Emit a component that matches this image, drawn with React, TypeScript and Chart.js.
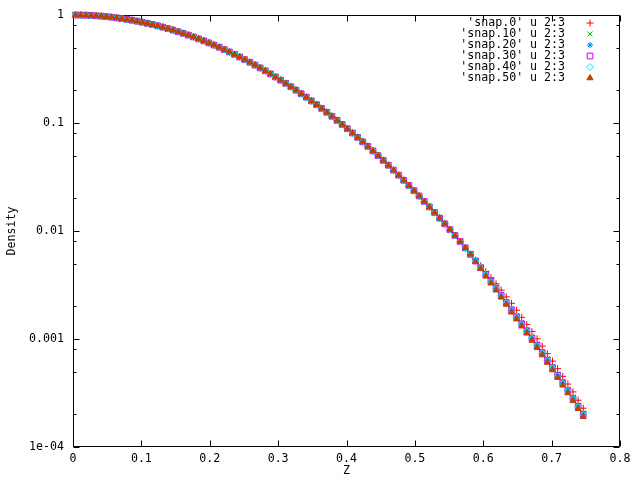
import React, { useEffect, useRef } from 'react';
import { Chart, registerables } from 'chart.js';
import { drawPoint } from 'chart.js/helpers';

Chart.register(...registerables);

const FONT = '"DejaVu Sans Mono", "Liberation Mono", monospace';
const FONT_SIZE = 11.6;

// z positions of the samples (same for every snapshot)
const zValues = [
  0.00375, 0.01125, 0.01875, 0.02625, 0.03375, 0.04125, 0.04875, 0.05625, 0.06375, 0.07125,
  0.07875, 0.08625, 0.09375, 0.10125, 0.10875, 0.11625, 0.12375, 0.13125, 0.13875, 0.14625,
  0.15375, 0.16125, 0.16875, 0.17625, 0.18375, 0.19125, 0.19875, 0.20625, 0.21375, 0.22125,
  0.22875, 0.23625, 0.24375, 0.25125, 0.25875, 0.26625, 0.27375, 0.28125, 0.28875, 0.29625,
  0.30375, 0.31125, 0.31875, 0.32625, 0.33375, 0.34125, 0.34875, 0.35625, 0.36375, 0.37125,
  0.37875, 0.38625, 0.39375, 0.40125, 0.40875, 0.41625, 0.42375, 0.43125, 0.43875, 0.44625,
  0.45375, 0.46125, 0.46875, 0.47625, 0.48375, 0.49125, 0.49875, 0.50625, 0.51375, 0.52125,
  0.52875, 0.53625, 0.54375, 0.55125, 0.55875, 0.56625, 0.57375, 0.58125, 0.58875, 0.59625,
  0.60375, 0.61125, 0.61875, 0.62625, 0.63375, 0.64125, 0.64875, 0.65625, 0.66375, 0.67125,
  0.67875, 0.68625, 0.69375, 0.70125, 0.70875, 0.71625, 0.72375, 0.73125, 0.73875, 0.74625,
];

// density shared by all snapshots where they overlap (samples 0..77)
const densityCore = [
  0.9998, 0.9981, 0.9947, 0.9897, 0.9830, 0.9747, 0.9648, 0.9535, 0.9406, 0.9264,
  0.9108, 0.8940, 0.8760, 0.8569, 0.8367, 0.8157, 0.7940, 0.7714, 0.7482, 0.7245,
  0.7003, 0.6758, 0.6511, 0.6262, 0.6013, 0.5763, 0.5514, 0.5267, 0.5026, 0.4784,
  0.4546, 0.4314, 0.4088, 0.3865, 0.3648, 0.3438, 0.3235, 0.3039, 0.2849, 0.2667,
  0.2492, 0.2325, 0.2165, 0.2013, 0.1868, 0.1731, 0.1602, 0.1479, 0.1364, 0.1255,
  0.1153, 0.1057, 0.09684, 0.08855, 0.08075, 0.07357, 0.06691, 0.06075, 0.05508, 0.04983,
  0.04502, 0.04061, 0.03655, 0.03285, 0.02948, 0.02641, 0.02361, 0.02108, 0.01878, 0.01671,
  0.01484, 0.01316, 0.01165, 0.01030, 0.009082, 0.007996, 0.006979, 0.006077,
];

// outer tails (samples 78..99), one per snapshot
const tailSnap0 = [
  0.005386, 0.004761, 0.004199, 0.003694, 0.003242, 0.002837, 0.002455, 0.002140, 0.001846, 0.001589,
  0.001366, 0.001172, 0.001004, 0.0008584, 0.0007327, 0.0006245, 0.0005312, 0.0004511, 0.0003825, 0.0003237,
  0.0002711, 0.0002287,
];
const tailSnap10 = [
  0.005333, 0.004624, 0.004080, 0.003523, 0.003035, 0.002609, 0.002238, 0.001917, 0.001653, 0.001423,
  0.001224, 0.001050, 0.0008992, 0.0007688, 0.0006562, 0.0005593, 0.0004758, 0.0004041, 0.0003426, 0.0002899,
  0.0002449, 0.0002066,
];
const tailSnap20 = [
  0.005280, 0.004578, 0.004020, 0.003471, 0.002991, 0.002571, 0.002206, 0.001889, 0.001629, 0.001403,
  0.001206, 0.001034, 0.0008861, 0.0007576, 0.0006467, 0.0005511, 0.0004688, 0.0003982, 0.0003376, 0.0002857,
  0.0002414, 0.0002036,
];
const tailSnap30 = [
  0.005280, 0.004578, 0.003961, 0.003420, 0.002947, 0.002533, 0.002173, 0.001861, 0.001605, 0.001382,
  0.001188, 0.001019, 0.000873, 0.0007464, 0.0006371, 0.000543, 0.0004619, 0.0003923, 0.0003326, 0.0002815,
  0.0002378, 0.0002006,
];
const tailSnap40 = [
  0.005270, 0.004570, 0.003921, 0.003386, 0.002918, 0.002508, 0.002151, 0.001842, 0.001589, 0.001368,
  0.001176, 0.001009, 0.0008643, 0.0007389, 0.0006307, 0.0005376, 0.0004573, 0.0003884, 0.0003293, 0.0002787,
  0.0002354, 0.0001986,
];
const tailSnap50 = [
  0.005174, 0.004486, 0.003803, 0.003283, 0.002829, 0.002432, 0.002086, 0.001768, 0.001525, 0.001313,
  0.001129, 0.0009681, 0.0008294, 0.0007091, 0.0006052, 0.0005159, 0.0004388, 0.0003727, 0.0003160, 0.0002674,
  0.0002259, 0.0001906,
];

const seriesLabels = [
  "'snap.0' u 2:3",
  "'snap.10' u 2:3",
  "'snap.20' u 2:3",
  "'snap.30' u 2:3",
  "'snap.40' u 2:3",
  "'snap.50' u 2:3",
];
const seriesTails = [tailSnap0, tailSnap10, tailSnap20, tailSnap30, tailSnap40, tailSnap50];
const seriesColors = ['#ff0000', '#00c000', '#0080ff', '#c000ff', '#00eeee', '#c04000'];
const seriesStyles = ['cross', 'crossRot', 'star', 'rect', 'rectRot', 'triangle'];
const seriesRadius = [3.5, 3.5, 3, 4, 3.5, 3.5];
const seriesFilled = [false, false, false, false, false, true];

const xTickValues = [0, 0.1, 0.2, 0.3, 0.4, 0.5, 0.6, 0.7, 0.8];
const xTickLabels = ['0', '0.1', '0.2', '0.3', '0.4', '0.5', '0.6', '0.7', '0.8'];
const yMajorTicks = [1e-4, 1e-3, 1e-2, 0.1, 1];
const yMajorLabels = ['1e-04', '0.001', '0.01', '0.1', '1'];
const yMinorTicks = [2e-4, 5e-4, 8e-4, 2e-3, 5e-3, 8e-3, 0.02, 0.05, 0.08, 0.2, 0.5, 0.8];

const xTitle = 'Z';
const yTitle = 'Density';

const gnuplotFrame = {
  id: 'gnuplotFrame',
  beforeDatasetsDraw(chart: any) {
    const { ctx, chartArea, scales } = chart;
    const { left, right, top, bottom } = chartArea;
    const xs = scales.x;
    const ys = scales.y;
    ctx.save();
    ctx.strokeStyle = '#000000';
    ctx.lineWidth = 1;
    const L = Math.round(left) + 0.5;
    const R = Math.round(right) - 0.5;
    const T = Math.round(top) + 0.5;
    const B = Math.round(bottom) - 0.5;
    ctx.beginPath();
    ctx.rect(L, T, R - L, B - T);
    ctx.stroke();
    const major = 6;
    const minor = 3;
    ctx.beginPath();
    xTickValues.forEach((v) => {
      const px = Math.round(xs.getPixelForValue(v)) + 0.5;
      ctx.moveTo(px, B);
      ctx.lineTo(px, B - major);
      ctx.moveTo(px, T);
      ctx.lineTo(px, T + major);
    });
    yMajorTicks.forEach((v) => {
      const py = Math.round(ys.getPixelForValue(v)) + 0.5;
      ctx.moveTo(L, py);
      ctx.lineTo(L + major, py);
      ctx.moveTo(R, py);
      ctx.lineTo(R - major, py);
    });
    yMinorTicks.forEach((v) => {
      const py = Math.round(ys.getPixelForValue(v)) + 0.5;
      ctx.moveTo(L, py);
      ctx.lineTo(L + minor, py);
      ctx.moveTo(R, py);
      ctx.lineTo(R - minor, py);
    });
    ctx.stroke();

    // axis titles
    ctx.fillStyle = '#000000';
    ctx.font = `${FONT_SIZE}px ${FONT}`;
    ctx.textAlign = 'center';
    ctx.textBaseline = 'middle';
    ctx.fillText(xTitle, (left + right) / 2, 471);
    ctx.save();
    ctx.translate(12, (top + bottom) / 2);
    ctx.rotate(-Math.PI / 2);
    ctx.fillText(yTitle, 0, 0);
    ctx.restore();
    ctx.restore();
  },
  afterDraw(chart: any) {
    const { ctx } = chart;
    ctx.save();
    ctx.font = `${FONT_SIZE}px ${FONT}`;
    ctx.textAlign = 'right';
    ctx.textBaseline = 'middle';
    seriesLabels.forEach((label, i) => {
      const yRow = 23 + i * 11;
      ctx.fillStyle = '#000000';
      ctx.fillText(label, 565, yRow);
      ctx.strokeStyle = seriesColors[i];
      ctx.fillStyle = seriesFilled[i] ? seriesColors[i] : 'rgba(0,0,0,0)';
      ctx.lineWidth = 1;
      drawPoint(ctx, { pointStyle: seriesStyles[i], radius: seriesRadius[i], borderWidth: 1, rotation: 0 } as any, 590, yRow);
    });
    ctx.restore();
  },
};

export default function App() {
  const canvasRef = useRef<HTMLCanvasElement | null>(null);

  useEffect(() => {
    const canvas = canvasRef.current;
    if (!canvas) return;
    const datasets = seriesLabels.map((label, i) => {
      const density = [...densityCore, ...seriesTails[i]];
      return {
        label,
        data: zValues.map((z, k) => ({ x: z, y: density[k] })),
        showLine: false,
        pointStyle: seriesStyles[i] as any,
        pointRadius: seriesRadius[i],
        pointHoverRadius: seriesRadius[i],
        pointBorderWidth: 1,
        borderColor: seriesColors[i],
        backgroundColor: seriesFilled[i] ? seriesColors[i] : 'rgba(0,0,0,0)',
        order: seriesLabels.length - i,
        clip: false as any,
      };
    });

    const chart = new Chart(canvas, {
      type: 'scatter',
      data: { datasets },
      options: {
        animation: false,
        responsive: false,
        devicePixelRatio: 1,
        events: [],
        layout: { padding: { left: 0, top: 15, right: 20, bottom: 0 } },
        plugins: {
          legend: { display: false },
          tooltip: { enabled: false },
        },
        scales: {
          x: {
            type: 'linear',
            min: 0,
            max: 0.8,
            afterBuildTicks: (s: any) => {
              s.ticks = xTickValues.map((v) => ({ value: v }));
            },
            afterFit: (s: any) => {
              s.height = 33;
              s.paddingLeft = 0;
              s.paddingRight = 0;
            },
            ticks: {
              autoSkip: false,
              maxRotation: 0,
              padding: 5,
              color: '#000000',
              font: { family: FONT, size: FONT_SIZE },
              callback: (_v: any, i: number) => xTickLabels[i],
            },
            grid: { display: false, drawTicks: false },
            border: { display: false },
          },
          y: {
            type: 'logarithmic',
            min: 1e-4,
            max: 1,
            afterBuildTicks: (s: any) => {
              s.ticks = yMajorTicks.map((v) => ({ value: v, major: true }));
            },
            afterFit: (s: any) => {
              s.width = 73;
              s.paddingTop = 0;
              s.paddingBottom = 0;
            },
            ticks: {
              autoSkip: false,
              padding: 9,
              color: '#000000',
              font: { family: FONT, size: FONT_SIZE },
              callback: (_v: any, i: number) => yMajorLabels[i],
            },
            grid: { display: false, drawTicks: false },
            border: { display: false },
          },
        },
      },
      plugins: [gnuplotFrame],
    });
    return () => chart.destroy();
  }, []);

  return (
    <div style={{ position: 'absolute', left: 0, top: 0, width: 640, height: 480, background: '#ffffff' }}>
      <canvas ref={canvasRef} width={640} height={480} style={{ display: 'block' }} />
    </div>
  );
}
